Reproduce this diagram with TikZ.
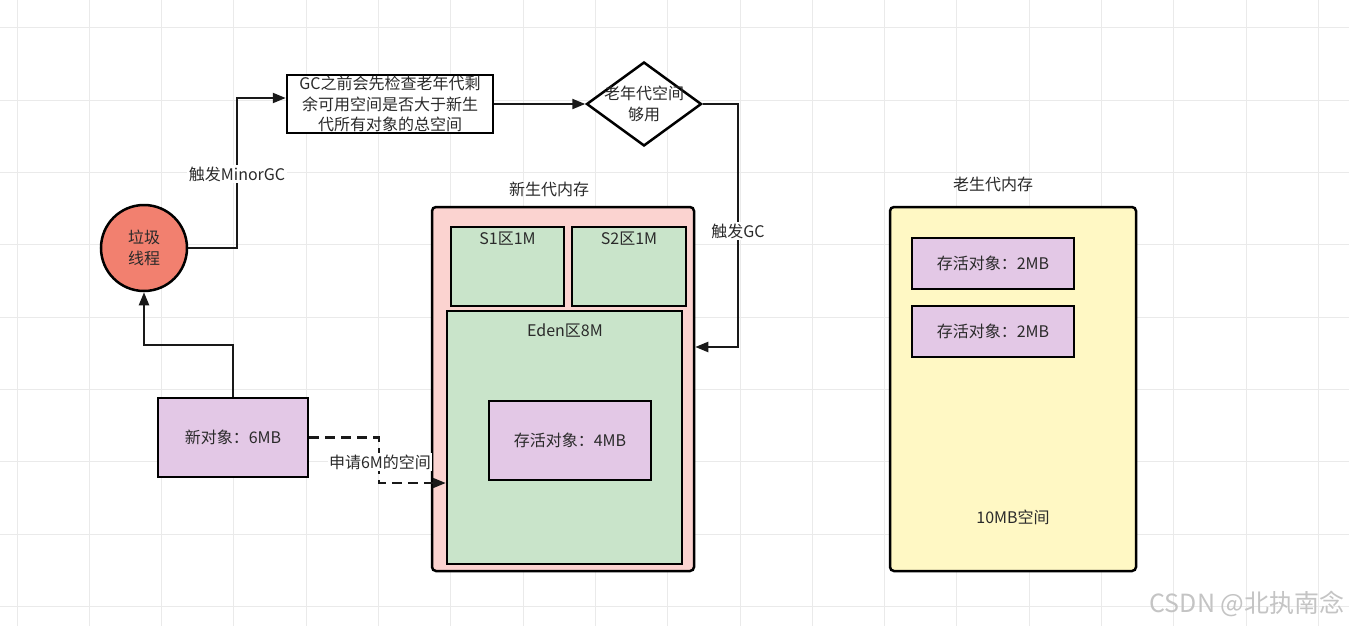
\documentclass[tikz,border=0pt]{standalone}
\usepackage{fontspec}
\setmainfont{Noto Sans CJK SC}
\usetikzlibrary{arrows.meta,shapes.geometric,calc}
\definecolor{gridc}{HTML}{EAEAEA}
\definecolor{txt}{HTML}{2A2A2A}
\definecolor{pinkbg}{HTML}{FBD3D0}
\definecolor{greenbg}{HTML}{C9E4CA}
\definecolor{purplebg}{HTML}{E3C8E6}
\definecolor{redbg}{HTML}{F2806F}
\definecolor{yellowbg}{HTML}{FFF8C4}
\definecolor{wmark}{HTML}{C4C4C4}
\tikzset{
  box/.style={draw=black, line width=2.5pt, inner sep=0pt, text=txt, align=center},
  conn/.style={draw=black!90, line width=2.2pt},
  arr/.style={conn, -{Triangle[length=13pt,width=10pt]}},
  lbl/.style={fill=white, inner sep=1.5pt, text=txt},
  plain/.style={text=txt, inner sep=0pt},
}
\begin{document}
\begin{tikzpicture}[x=1pt,y=-1pt,font=\fontsize{16}{20.5}\selectfont]
\useasboundingbox[fill=white] (0,0) rectangle (1349,626);
% grid
\foreach \i in {0,...,18} \draw[gridc, line width=1pt] ({17+72.3*\i},0) -- ({17+72.3*\i},626);
\foreach \j in {0,...,8} \draw[gridc, line width=1pt] (0,{28+72.3*\j}) -- (1349,{28+72.3*\j});

% nodes
\node[box, circle, fill=redbg, minimum size=86pt] (circ) at (144,248) {垃圾\\线程};
\node[box, fill=white, minimum width=206pt, minimum height=58pt] (check) at (390,104) {GC之前会先检查老年代剩\\余可用空间是否大于新生\\代所有对象的总空间};
\node[box, diamond, fill=white, minimum width=115pt, minimum height=84pt] (dia) at (644,104) {};
\node[plain, align=center] (diat) at (dia.center) {老年代空间\\够用};

\node[plain] (ytitle) at (549,189) {新生代内存};
\node[box, fill=pinkbg, rounded corners=4pt, minimum width=262pt, minimum height=364pt] (young) at (563,389) {};
\node[box, fill=greenbg, minimum width=113pt, minimum height=79pt] (s1) at (507.5,266.5) {};
\node[plain] (s1t) at (507.5,239) {S1区1M};
\node[box, fill=greenbg, minimum width=114pt, minimum height=79pt] (s2) at (629,266.5) {};
\node[plain] (s2t) at (629,239) {S2区1M};
\node[box, fill=greenbg, minimum width=235pt, minimum height=253pt] (eden) at (564.5,437.5) {};
\node[plain] (edent) at (565,331) {Eden区8M};
\node[box, fill=purplebg, minimum width=162pt, minimum height=79pt] (surv4) at (570,440.5) {存活对象：4MB};

\node[plain] (otitle) at (993,184) {老生代内存};
\node[box, fill=yellowbg, rounded corners=4pt, minimum width=246pt, minimum height=364pt] (old) at (1013,389) {};
\node[box, fill=purplebg, minimum width=162pt, minimum height=51pt] (surva) at (993,263.5) {存活对象：2MB};
\node[box, fill=purplebg, minimum width=162pt, minimum height=51pt] (survb) at (993,331.5) {存活对象：2MB};
\node[plain] (oldsp) at (1013,517) {10MB空间};

\node[box, fill=purplebg, minimum width=150pt, minimum height=79pt] (newobj) at (233,437.5) {新对象：6MB};

% connectors
\coordinate (c1) at (237,248);
\coordinate (c2) at (237,98);
\draw[arr] (circ.east) -- (c1) -- (c2) -- (check.west |- c2);
\node[lbl] (l1) at (237,174) {触发MinorGC};

\draw[arr] (check.east) -- (dia.west);

\coordinate (d1) at (738,104);
\coordinate (d2) at (738,347);
\draw[arr] (dia.east) -- (d1) -- (d2) -- (young.east |- d2);
\node[lbl] (l2) at (738,231) {触发GC};

\coordinate (n1) at (233,345);
\coordinate (n2) at (144,345);
\draw[arr] (newobj.north) -- (n1) -- (n2) -- (circ.south);

\coordinate (e1) at (379,437.5);
\coordinate (e2) at (379,483);
\draw[arr, dash pattern=on 10pt off 6pt] (newobj.east) -- (e1) -- (e2) -- (eden.west |- e2);
\node[lbl] (l3) at (380,462) {申请6M的空间};

\node[text=wmark, inner sep=0pt, font=\fontsize{25}{28}\selectfont] (wm) at (1247,604) {CSDN @北执南念};
\end{tikzpicture}
\end{document}
